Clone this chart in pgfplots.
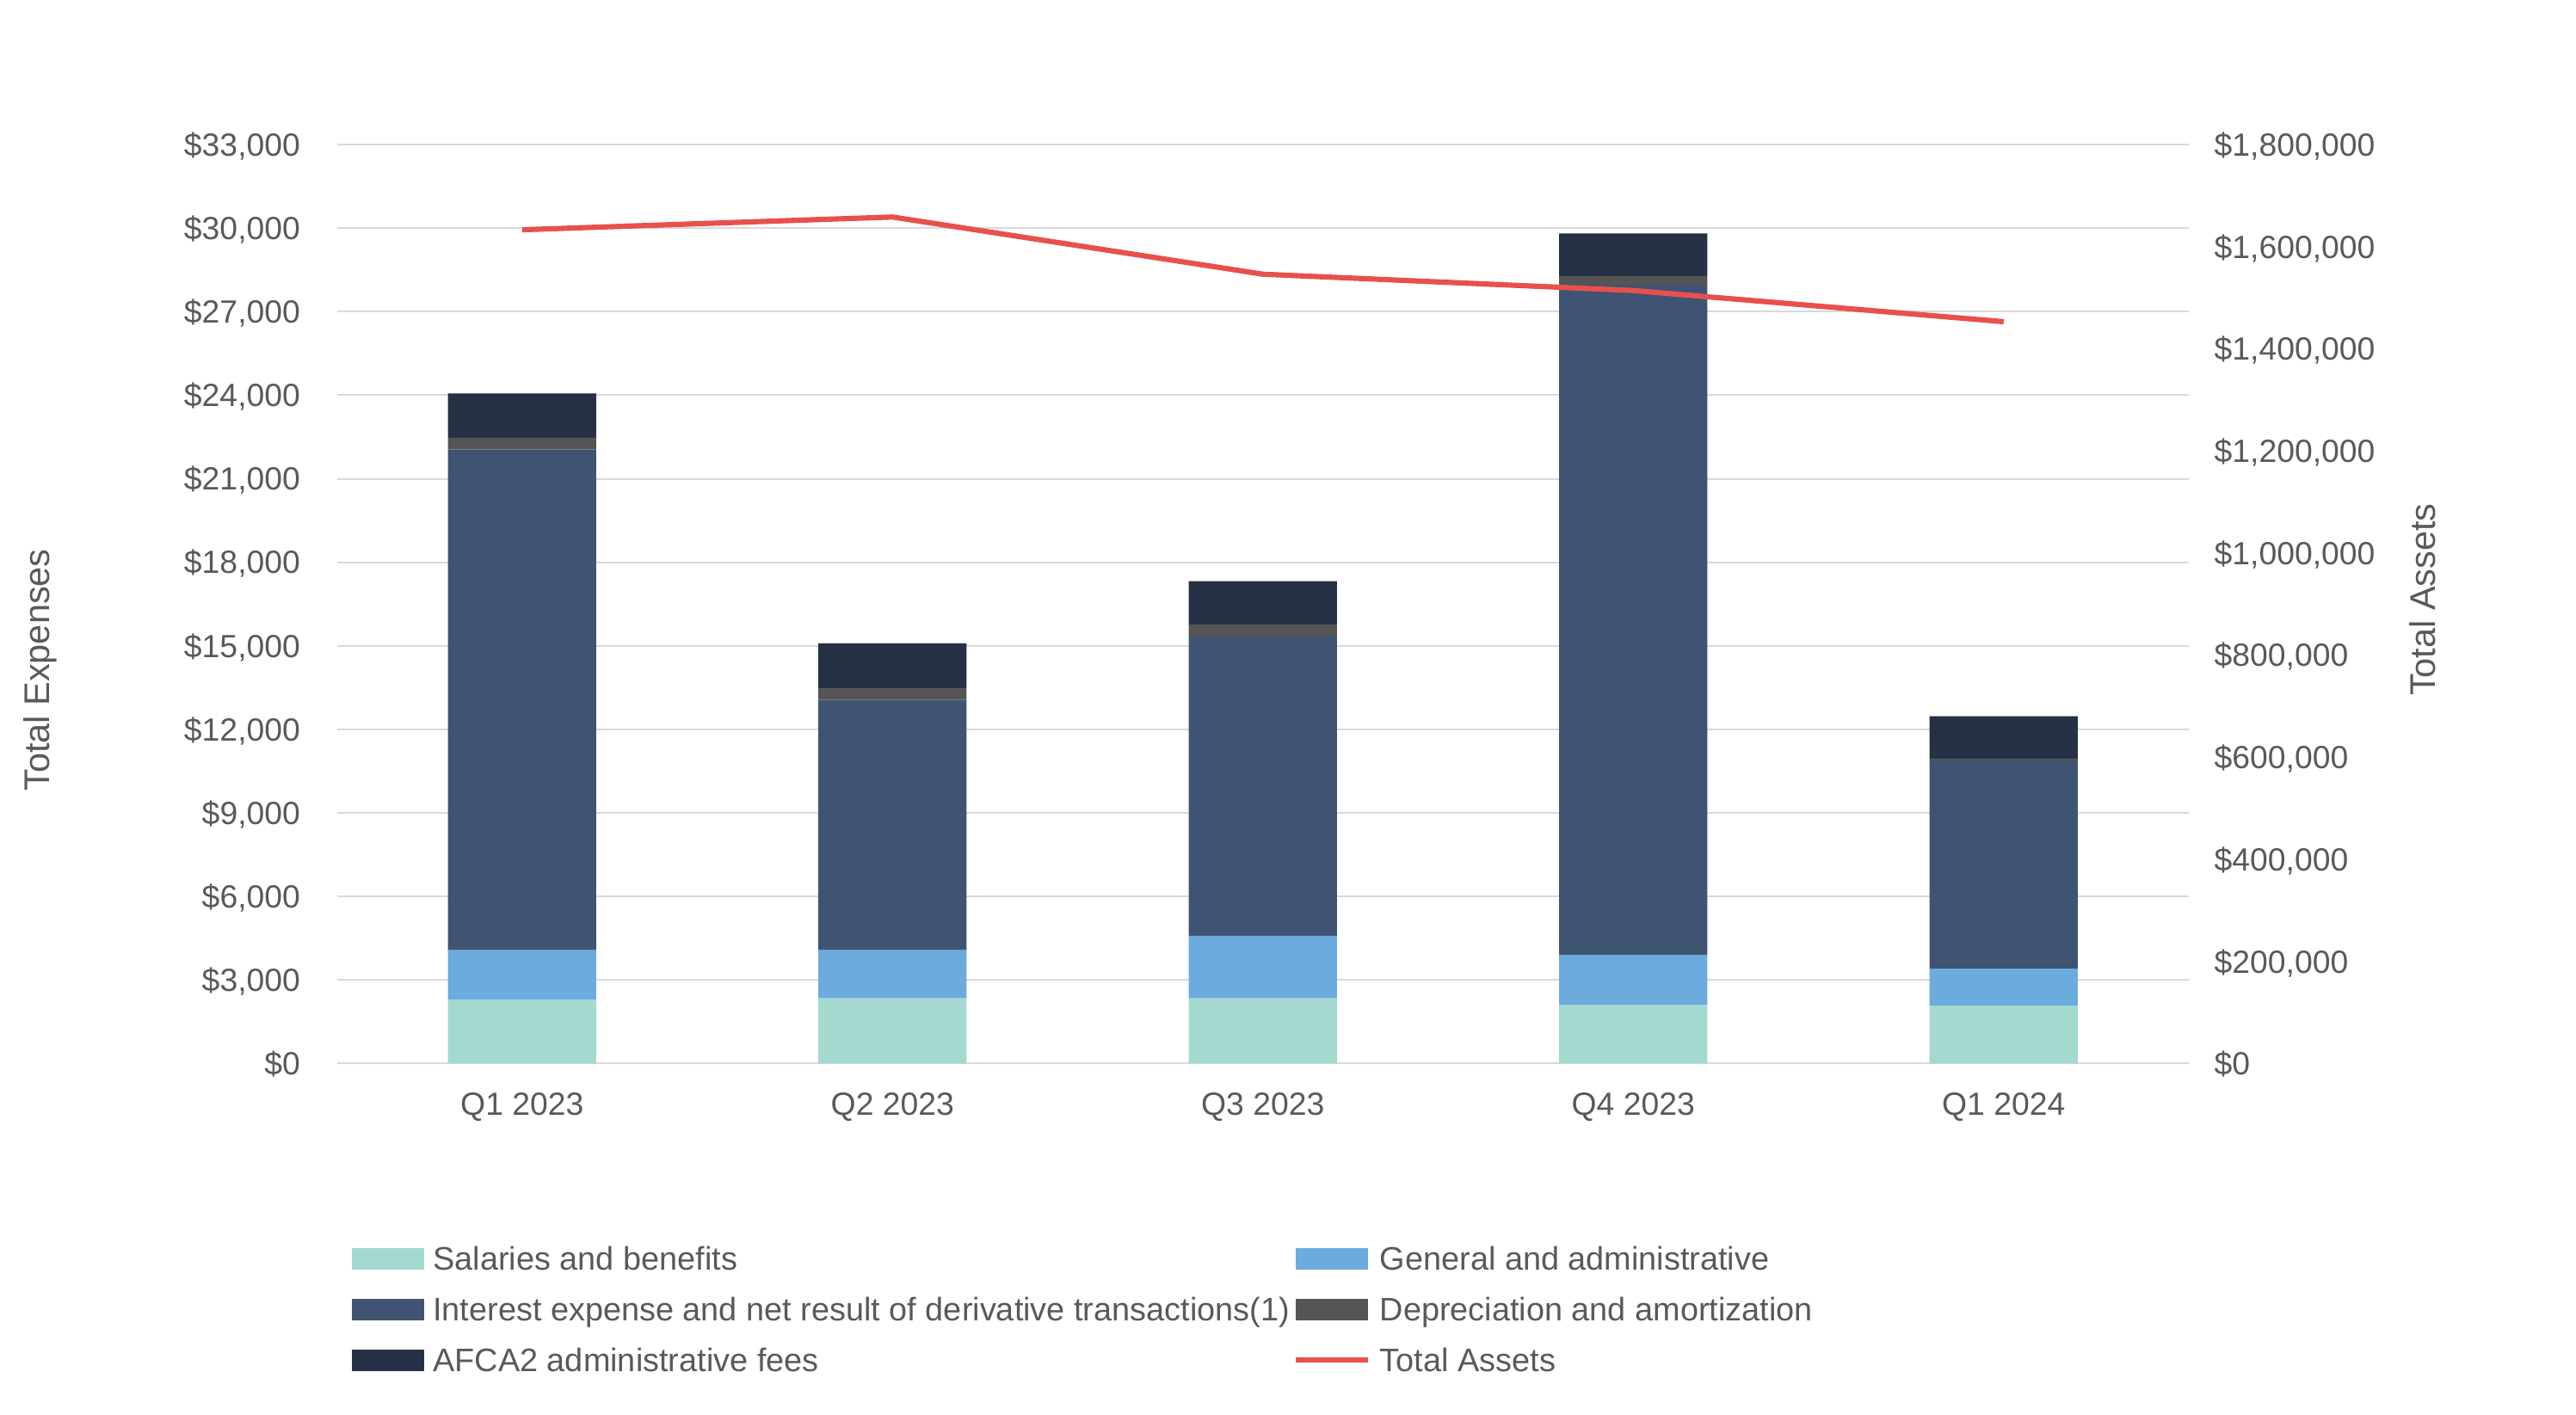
\documentclass[border=0pt]{standalone}
\usepackage{pgfplots}
\pgfplotsset{compat=1.18}
\usepackage{fontspec}
\setmainfont{Liberation Sans}
\definecolor{cSal}{HTML}{A3D9CF}
\definecolor{cGA}{HTML}{6CABDD}
\definecolor{cInt}{HTML}{3F5373}
\definecolor{cDep}{HTML}{555555}
\definecolor{cAF}{HTML}{263145}
\definecolor{cRed}{HTML}{E8504D}
\definecolor{cGrid}{HTML}{D9D9D9}
\definecolor{cText}{HTML}{595959}
\pgfplotsset{
  swatch/.style={legend image code/.code={\path[##1] (0pt,-4.6pt) rectangle (31.5pt,4.6pt); \path (35.4pt,0pt);}},
  lineswatch/.style={legend image code/.code={\draw[##1] (0pt,0pt) -- (31.5pt,0pt); \path (35.4pt,0pt);}},
  mylegend/.style={legend style={at={(#1,-0.2001)}, anchor=north west, draw=none, fill=none,
      inner sep=0pt, outer sep=0pt, row sep=12.1pt, column sep=0pt,
      nodes={inner sep=0pt, text height=10pt, text depth=0pt, anchor=west,
        font=\fontsize{14.2}{16}\selectfont, text=cText}},
      legend cell align=left},
}
\begin{document}
\begin{tikzpicture}
\path[use as bounding box] (0,0) rectangle (1122.75pt,616.5pt);
\begin{axis}[
  at={(146.85pt,152.85pt)}, anchor=south west,
  scale only axis, width=807.15pt, height=400.65pt,
  xmin=-0.5, xmax=4.5, ymin=0, ymax=33000,
  enlarge x limits=false, enlarge y limits=false,
  ybar stacked, bar width=0.4,
  axis line style={draw=none},
  major tick length=0pt,
  xtick={0,1,2,3,4},
  xticklabels={Q1 2023,Q2 2023,Q3 2023,Q4 2023,Q1 2024},
  ytick={0,3000,6000,9000,12000,15000,18000,21000,24000,27000,30000,33000},
  ymajorgrids, grid style={draw=cGrid, line width=0.75pt},
  scaled y ticks=false,
  yticklabel={\$\pgfmathprintnumber[fixed,precision=0,1000 sep={,},assume math mode=true]{\tick}},
  tick label style={font=\fontsize{14}{16}\selectfont, text=cText, inner sep=0pt},
  xticklabel style={anchor=base, yshift=-22.5pt},
  yticklabel style={anchor=base east, xshift=-15.8pt, yshift=-5pt},
  mylegend=0.00808,
]
\addplot[fill=cSal, draw=none, forget plot] coordinates {(0,2300) (1,2340) (2,2340) (3,2110) (4,2080)};
\addplot[fill=cGA, draw=none, forget plot] coordinates {(0,1770) (1,1730) (2,2250) (3,1790) (4,1330)};
\addplot[fill=cInt, draw=none, forget plot] coordinates {(0,17980) (1,8990) (2,10740) (3,24060) (4,7470)};
\addplot[fill=cDep, draw=none, forget plot] coordinates {(0,420) (1,420) (2,430) (3,310) (4,70)};
\addplot[fill=cAF, draw=none, forget plot] coordinates {(0,1590) (1,1610) (2,1560) (3,1540) (4,1520)};
\addlegendimage{swatch, fill=cSal, draw=none}
\addlegendentry{Salaries and benefits}
\addlegendimage{swatch, fill=cInt, draw=none}
\addlegendentry{Interest expense and net result of derivative transactions(1)}
\addlegendimage{swatch, fill=cAF, draw=none}
\addlegendentry{AFCA2 administrative fees}
\end{axis}
\begin{axis}[
  at={(146.85pt,152.85pt)}, anchor=south west,
  scale only axis, width=807.15pt, height=400.65pt,
  xmin=-0.5, xmax=4.5, ymin=0, ymax=1800000,
  enlarge x limits=false, enlarge y limits=false,
  axis line style={draw=none},
  major tick length=0pt,
  xtick=\empty,
  ytick={0,200000,400000,600000,800000,1000000,1200000,1400000,1600000,1800000},
  yticklabel pos=right,
  scaled y ticks=false,
  yticklabel={\$\pgfmathprintnumber[fixed,precision=0,1000 sep={,},assume math mode=true]{\tick}},
  tick label style={font=\fontsize{14}{16}\selectfont, text=cText, inner sep=0pt},
  yticklabel style={anchor=base west, xshift=10.9pt, yshift=-5pt},
  mylegend=0.5165,
]
\addplot[cRed, line width=2.3pt, line join=round, forget plot] coordinates {(0,1633000) (1,1658000) (2,1546000) (3,1514000) (4,1453000)};
\addlegendimage{swatch, fill=cGA, draw=none}
\addlegendentry{General and administrative}
\addlegendimage{swatch, fill=cDep, draw=none}
\addlegendentry{Depreciation and amortization}
\addlegendimage{lineswatch, draw=cRed, line width=2.3pt}
\addlegendentry{Total Assets}
\end{axis}
\node[rotate=90, anchor=base, font=\fontsize{15.56}{18}\selectfont, text=cText] at (21.4pt,324.4pt) {Total Expenses};
\node[rotate=90, anchor=base, font=\fontsize{15.56}{18}\selectfont, text=cText] at (1061.25pt,355.1pt) {Total Assets};
\end{tikzpicture}
\end{document}
